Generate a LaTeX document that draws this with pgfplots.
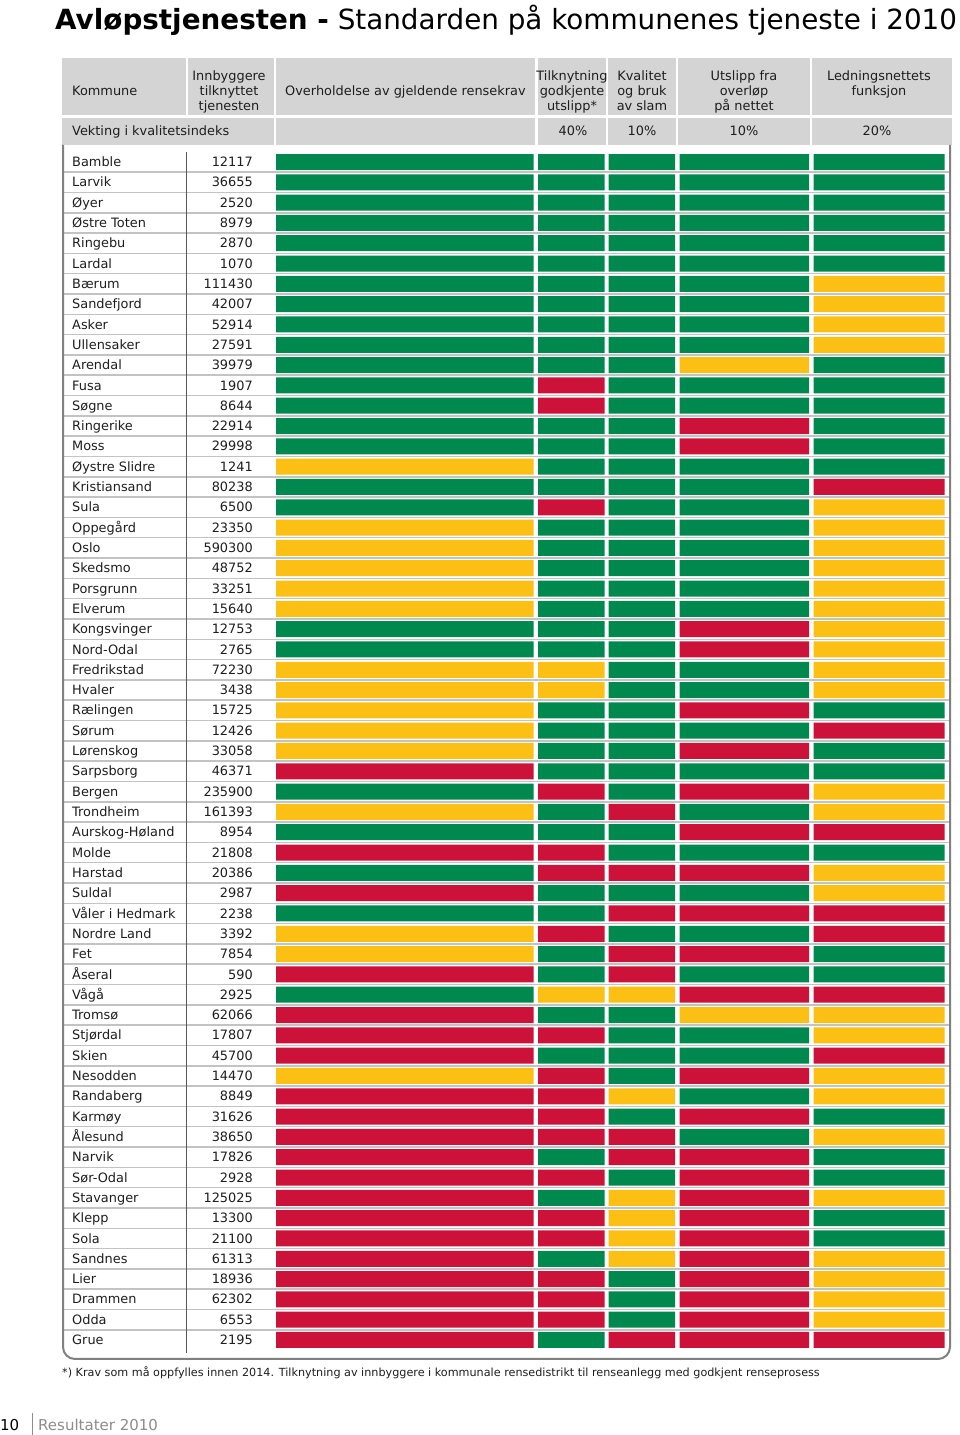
\documentclass[border=0pt]{standalone}
\usepackage{pgfplots}
\pgfplotsset{compat=1.18}
\usepackage{pgfplotstable}
\usepackage{fontspec}
\setmainfont{DejaVu Sans}
\definecolor{cG}{RGB}{0,137,78}
\definecolor{cY}{RGB}{252,191,20}
\definecolor{cR}{RGB}{205,18,58}
\definecolor{hdr}{RGB}{212,212,212}
\definecolor{sepc}{RGB}{195,195,195}
\definecolor{framec}{RGB}{128,128,128}
\definecolor{txt}{RGB}{30,30,30}
\definecolor{foot}{RGB}{140,140,140}

% colour codes: 0 = green, 1 = yellow, 2 = red
% A = Overholdelse av gjeldende rensekrav, B = Tilknytning godkjente utslipp,
% C = Kvalitet og bruk av slam, D = Utslipp fra overloep, E = Ledningsnettets funksjon
\pgfplotstableread[col sep=comma]{
i,name,pop,A,B,C,D,E
1,Bamble,12117,0,0,0,0,0
2,Larvik,36655,0,0,0,0,0
3,Øyer,2520,0,0,0,0,0
4,Østre Toten,8979,0,0,0,0,0
5,Ringebu,2870,0,0,0,0,0
6,Lardal,1070,0,0,0,0,0
7,Bærum,111430,0,0,0,0,1
8,Sandefjord,42007,0,0,0,0,1
9,Asker,52914,0,0,0,0,1
10,Ullensaker,27591,0,0,0,0,1
11,Arendal,39979,0,0,0,1,0
12,Fusa,1907,0,2,0,0,0
13,Søgne,8644,0,2,0,0,0
14,Ringerike,22914,0,0,0,2,0
15,Moss,29998,0,0,0,2,0
16,Øystre Slidre,1241,1,0,0,0,0
17,Kristiansand,80238,0,0,0,0,2
18,Sula,6500,0,2,0,0,1
19,Oppegård,23350,1,0,0,0,1
20,Oslo,590300,1,0,0,0,1
21,Skedsmo,48752,1,0,0,0,1
22,Porsgrunn,33251,1,0,0,0,1
23,Elverum,15640,1,0,0,0,1
24,Kongsvinger,12753,0,0,0,2,1
25,Nord-Odal,2765,0,0,0,2,1
26,Fredrikstad,72230,1,1,0,0,1
27,Hvaler,3438,1,1,0,0,1
28,Rælingen,15725,1,0,0,2,0
29,Sørum,12426,1,0,0,0,2
30,Lørenskog,33058,1,0,0,2,0
31,Sarpsborg,46371,2,0,0,0,0
32,Bergen,235900,0,2,0,2,1
33,Trondheim,161393,1,0,2,0,1
34,Aurskog-Høland,8954,0,0,0,2,2
35,Molde,21808,2,2,0,0,0
36,Harstad,20386,0,2,2,2,1
37,Suldal,2987,2,0,0,0,1
38,Våler i Hedmark,2238,0,0,2,2,2
39,Nordre Land,3392,1,2,0,0,2
40,Fet,7854,1,0,2,2,0
41,Åseral,590,2,0,2,0,0
42,Vågå,2925,0,1,1,2,2
43,Tromsø,62066,2,0,0,1,1
44,Stjørdal,17807,2,2,0,0,1
45,Skien,45700,2,0,0,0,2
46,Nesodden,14470,1,2,0,2,1
47,Randaberg,8849,2,2,1,0,1
48,Karmøy,31626,2,2,0,2,0
49,Ålesund,38650,2,2,2,0,1
50,Narvik,17826,2,0,2,2,0
51,Sør-Odal,2928,2,2,0,2,0
52,Stavanger,125025,2,0,1,2,1
53,Klepp,13300,2,2,1,2,0
54,Sola,21100,2,2,1,2,0
55,Sandnes,61313,2,0,1,2,1
56,Lier,18936,2,2,0,2,1
57,Drammen,62302,2,2,0,2,1
58,Odda,6553,2,2,0,2,1
59,Grue,2195,2,0,2,2,2
}\data

\newcommand\rowy{162+(\thisrow{i}-1)*20.31}
\newcommand\gapplot[1]{%
  \addplot[fill=none,draw=none] table[y expr=\rowy, x expr={#1}]{\data};}
\newcommand\cellplots[2]{%
  \addplot[fill=cG,draw=none] table[y expr=\rowy, x expr={(\thisrow{#1}==0)*#2}]{\data};
  \addplot[fill=cY,draw=none] table[y expr=\rowy, x expr={(\thisrow{#1}==1)*#2}]{\data};
  \addplot[fill=cR,draw=none] table[y expr=\rowy, x expr={(\thisrow{#1}==2)*#2}]{\data};}

\pgfplotsset{pagegeom/.style={width=960pt, height=1435pt, scale only axis,
  xmin=0, xmax=960, ymin=0, ymax=1435, y dir=reverse, hide axis, clip=false}}

\newcommand\hf{\fontsize{12.9}{15}\selectfont}

\begin{document}
\begin{tikzpicture}
\useasboundingbox (0,0) rectangle (960pt,1435pt);
\begin{scope}[shift={(0pt,1435pt)}, x=1pt, y=-1pt]
  % header background
  \fill[hdr] (62,58) rectangle (952,145);
  \draw[white, line width=2.2pt] (62,116.5) -- (952,116.5);
  \foreach \xx in {187,275,536.5,607,677,811}
    \draw[white, line width=2.2pt] (\xx,58) -- (\xx,116.5);
  \foreach \xx in {275,536.5,607,677,811}
    \draw[white, line width=2.2pt] (\xx,116.5) -- (\xx,145);
  % row separators
  \foreach \k in {1,...,58}
    \draw[sepc, line width=1.5pt] (64,{162+(\k-0.5)*20.31}) -- (949,{162+(\k-0.5)*20.31});
  % name / number divider
  \draw[black!65, line width=0.8pt] (186,152) -- (186,1353);
  % frame of the body
  \draw[framec, line width=2pt, rounded corners=12pt] (63,145) -- (63,1359) -- (950,1359) -- (950,145);
\end{scope}

\begin{axis}[pagegeom, xbar stacked, bar width=16pt]
  \gapplot{276}
  \cellplots{A}{257.5}
  \gapplot{4.5}
  \cellplots{B}{66.5}
  \gapplot{4}
  \cellplots{C}{66.5}
  \gapplot{4.5}
  \cellplots{D}{129.5}
  \gapplot{4.5}
  \cellplots{E}{131}
\end{axis}

\begin{axis}[pagegeom]
  \addplot[only marks, mark=*, mark size=0pt, mark options={opacity=0},
    scatter/use mapped color={draw opacity=0, fill opacity=0},
    point meta=explicit symbolic, nodes near coords,
    nodes near coords style={anchor=base west, inner sep=0pt, font=\hf, text=txt, opacity=1, text opacity=1}]
    table[x expr=72, y expr=\rowy+4.6, meta=name]{\data};
  \addplot[only marks, mark=*, mark size=0pt, mark options={opacity=0},
    scatter/use mapped color={draw opacity=0, fill opacity=0},
    point meta=explicit symbolic, nodes near coords,
    nodes near coords style={anchor=base east, inner sep=0pt, font=\hf, text=txt, opacity=1, text opacity=1}]
    table[x expr=253, y expr=\rowy+4.6, meta=pop]{\data};
\end{axis}

\begin{scope}[shift={(0pt,1435pt)}, x=1pt, y=-1pt, every node/.style={inner sep=0pt, text=txt, font=\hf}]
  % title
  \node[anchor=base west, font=\fontsize{27.8}{30}\selectfont, text=black] at (55,30)
    {\textbf{Avløpstjenesten -} Standarden på kommunenes tjeneste i 2010};
  % header row 1
  \node[anchor=base west] at (72,96) {Kommune};
  \node[anchor=base] at (229,80.5) {Innbyggere};
  \node[anchor=base] at (229,95.5) {tilknyttet};
  \node[anchor=base] at (229,110.5) {tjenesten};
  \node[anchor=base west] at (285,96) {Overholdelse av gjeldende rensekrav};
  \node[anchor=base] at (572,80.5) {Tilknytning};
  \node[anchor=base] at (572,95.5) {godkjente};
  \node[anchor=base] at (572,110.5) {utslipp*};
  \node[anchor=base] at (642,80.5) {Kvalitet};
  \node[anchor=base] at (642,95.5) {og bruk};
  \node[anchor=base] at (642,110.5) {av slam};
  \node[anchor=base] at (744,80.5) {Utslipp fra};
  \node[anchor=base] at (744,95.5) {overløp};
  \node[anchor=base] at (744,110.5) {på nettet};
  \node[anchor=base] at (879,80.5) {Ledningsnettets};
  \node[anchor=base] at (879,95.5) {funksjon};
  % header row 2
  \node[anchor=base west] at (72,136) {Vekting i kvalitetsindeks};
  \node[anchor=base] at (573,136) {40\%};
  \node[anchor=base] at (642,136) {10\%};
  \node[anchor=base] at (744,136) {10\%};
  \node[anchor=base] at (877,136) {20\%};
  % footnote
  \node[anchor=base west, font=\fontsize{11.2}{13}\selectfont] at (62,1377)
    {*) Krav som må oppfylles innen 2014. Tilknytning av innbyggere i kommunale rensedistrikt til renseanlegg med godkjent renseprosess};
  % page footer
  \node[anchor=base west, font=\fontsize{15}{17}\selectfont, text=black] at (0,1430) {10};
  \draw[foot, line width=0.8pt] (32,1413) -- (32,1435);
  \node[anchor=base west, font=\fontsize{15}{17}\selectfont, text=foot] at (38,1430) {Resultater 2010};
\end{scope}
\end{tikzpicture}
\end{document}
